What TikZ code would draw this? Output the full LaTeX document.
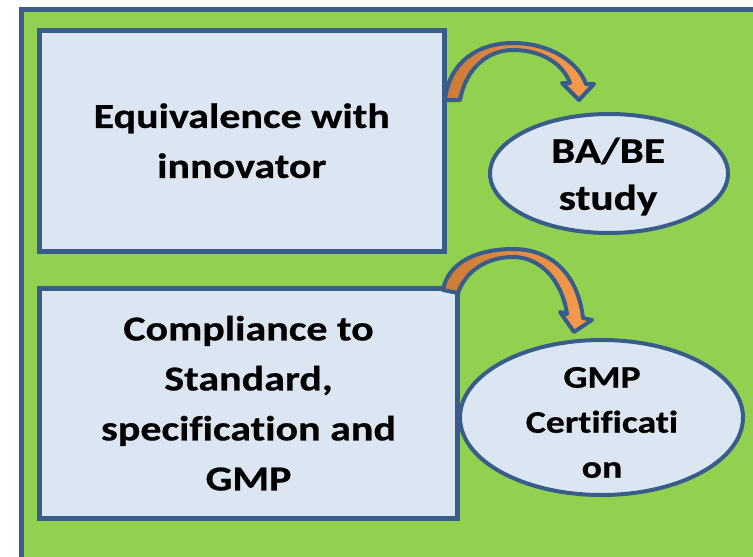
\documentclass[tikz,border=0pt]{standalone}
\usepackage{fontspec}
\newfontfamily\boxfont[FakeStretch=1.2, FakeBold=0.6, Ligatures={NoCommon}]{Carlito}
\usetikzlibrary{shapes.geometric}
\definecolor{leafgreen}{HTML}{92D050}
\definecolor{slateblue}{HTML}{385D8A}
\definecolor{paleblue}{HTML}{DCE6F2}
\definecolor{darkorange}{HTML}{CC7A38}
\definecolor{lightorange}{HTML}{F99C4C}

\tikzset{
    box/.style={draw=slateblue, line width=5pt, fill=paleblue, align=center,
        font=\boxfont\bfseries\fontsize{35}{50}\selectfont},
    oval/.style={ellipse, draw=slateblue, line width=4pt, fill=paleblue, inner sep=0pt},
    ovaltext/.style={align=center, inner sep=0pt},
    bentarrow/.style={draw=slateblue, line width=4pt, line join=round,
        left color=darkorange, right color=lightorange}
}

\begin{document}
\begin{tikzpicture}[x=1pt, y=-1pt]
        \useasboundingbox (0,0) rectangle (753,557);
        \clip (0,0) rectangle (753,557);

        % green panel behind everything
        \filldraw[fill=leafgreen, draw=slateblue, line width=5pt] (21.5,9.5) rectangle (800,620);

        \node[box, minimum width=404.5pt, minimum height=220.5pt] (equiv) at (241.75,140.75)
            {Equivalence with\\innovator};
        \node[box, minimum width=418pt, minimum height=230.5pt] (comply) at (248.5,403.25)
            {Compliance to\\Standard,\\specification and\\GMP};

        \node[oval, minimum width=238pt, minimum height=119pt] (babe) at (609,173.5) {};
        \node[ovaltext, font=\boxfont\bfseries\fontsize{36}{47}\selectfont] at (608,176.5)
            {BA/BE\\study};

        \node[oval, minimum width=283pt, minimum height=155pt] (gmp) at (601.5,417.5) {};
        \node[ovaltext, font=\boxfont\bfseries\fontsize{31.5}{45}\selectfont] at (602,422.5)
            {GMP\\Certificati\\on};

        % curved block arrows
        \filldraw[bentarrow] (445,100) .. controls (449,62) and (478,43) .. (513,43)
            .. controls (550,43) and (578,62) .. (586,84)
            -- (594,84) -- (579,100) -- (562,83) -- (570,83)
            .. controls (563,64) and (542,50) .. (513,50)
            .. controls (488,50) and (466,68) .. (460,100) -- cycle;
        \filldraw[bentarrow] (443,290) .. controls (448,262) and (478,249) .. (513,249)
            .. controls (552,249) and (578,275) .. (583,318)
            -- (592,320) -- (574,332) -- (560,312) -- (567,314)
            .. controls (562,280) and (540,257) .. (513,257)
            .. controls (488,257) and (466,270) .. (458,293) -- cycle;
\end{tikzpicture}
\end{document}
